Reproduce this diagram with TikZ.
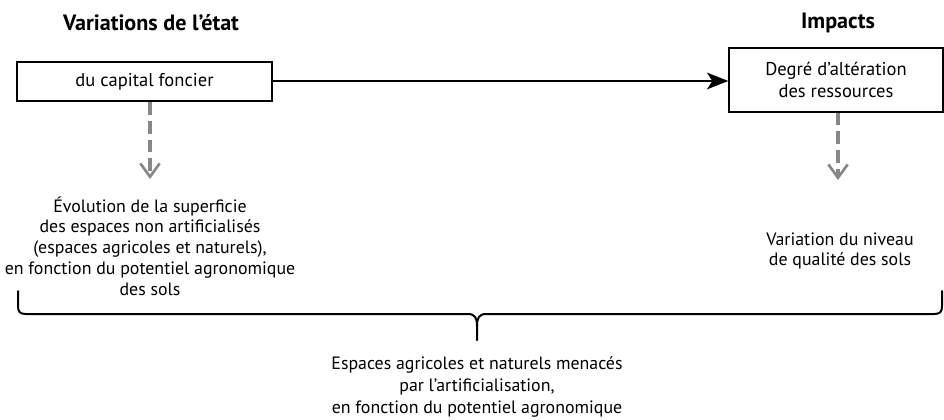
\documentclass[tikz,border=0pt]{standalone}
\usepackage{fontspec}
\setmainfont{PT Sans}
\usetikzlibrary{arrows.meta}
\begin{document}
\begin{tikzpicture}[x=0.75pt,y=-0.75pt,
  heading/.style={font=\fontsize{16.6}{19}\selectfont\bfseries},
  stepbox/.style={draw=black,line width=1.5pt,inner sep=0pt,align=center,
    font=\fontsize{13.9}{16.5}\selectfont},
  lbl/.style={align=center,inner sep=0pt,font=\fontsize{13.4}{15.6}\selectfont},
  mainarrow/.style={line width=1.5pt,-{Stealth[length=16pt,width=12.5pt,inset=4pt]}},
  dasharrow/.style={draw=black!47,line width=2.4pt,dash pattern=on 9.5pt off 4.5pt,
    -{Straight Barb[length=10pt,width=14.5pt,line width=2pt]}},
  bracepath/.style={line width=1.5pt,line cap=round}]
\useasboundingbox (0,0) rectangle (944,419);

% column headings
\node[heading] (hstate) at (151,23) {Variations de l’état};
\node[heading] (himpact) at (838,23) {Impacts};

% the two boxes and the link between them
\node[stepbox,minimum width=191pt,minimum height=29.5pt] (lbox) at (144.5,81.5) {du capital foncier};
\node[stepbox,minimum width=160pt,minimum height=47.5pt] (rbox) at (836,80)
  {Degré d’altération\\des ressources};
\draw[mainarrow] (lbox.east |- 0,81) -- (rbox.west |- 0,81);

% indicators under each box
\node[lbl] (ltext) at (150,246) {Évolution de la superficie\\des espaces non artificialisés\\(espaces agricoles et naturels),\\en fonction du potentiel agronomique\\des sols};
\node[lbl] (rtext) at (840,251) {Variation du niveau\\de qualité des sols};

\coordinate (ltip) at (150,179);
\coordinate (rtip) at (838,180);
\draw[dasharrow] (lbox.south -| ltip) -- (ltip);
\draw[dasharrow] (rbox.south -| rtip) -- (rtip);

% brace grouping both indicators
\coordinate (bl) at (18,291);
\coordinate (br) at (942,291);
\coordinate (bm) at (477,340);
\draw[bracepath] (bl) -- (18,306) .. controls (18,312) and (20,314) .. (26,314)
  -- (468,314) .. controls (475,314) and (477,318) .. (477,326) -- (bm);
\draw[bracepath] (br) -- (942,306) .. controls (942,312) and (940,314) .. (934,314)
  -- (486,314) .. controls (479,314) and (477,318) .. (477,326);

% conclusion
\node[lbl,font=\fontsize{13.4}{16.3}\selectfont] (btext) at (477,387) {Espaces agricoles et naturels menacés\\par l’artificialisation,\\en fonction du potentiel agronomique};
\end{tikzpicture}
\end{document}
